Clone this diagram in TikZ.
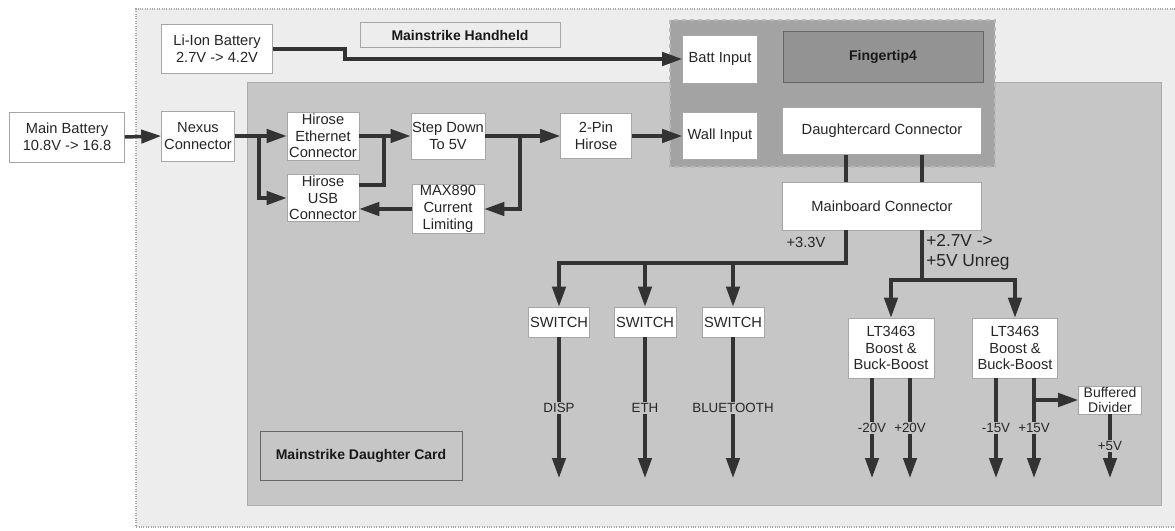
\documentclass[tikz,border=0pt]{standalone}
\usepackage{fontspec}
\setsansfont{Liberation Sans}
\usetikzlibrary{calc,arrows.meta,positioning}
\newcommand{\PxUnit}{0.75pt}
\newcommand{\OutRailY}{478}
\newcommand{\LowBusY}{263}
\newcommand{\HighBusY}{280}
\newcommand{\TapOff}{19}

\begin{document}
\begin{tikzpicture}[x=0.75pt,y=-0.75pt,
  sz/.style 2 args={minimum width=#1*\PxUnit, minimum height=#2*\PxUnit},
  blk/.style={draw=gray!70, fill=white, align=center, inner sep=1pt, text=black!85,
    font=\sffamily\fontsize{11}{12.5}\selectfont},
  tag/.style={draw=black!60, align=center, text=black!90,
    font=\sffamily\bfseries\fontsize{10.5}{12.5}\selectfont},
  bus/.style={line width=2.6pt, draw=black!80},
  feed/.style={bus, -{Triangle[length=15pt,width=10pt]}},
  rail/.style={fill=gray!45, inner sep=1pt, text=black!85,
    font=\sffamily\fontsize{10}{12}\selectfont},
  volt/.style={inner sep=0pt, text=black!85, font=\sffamily\fontsize{11}{13}\selectfont}
]
\useasboundingbox (0,0) rectangle (1175,531);

% ----- Regions -----
\fill[gray!14] (136,9) rectangle (1185,527);
\draw[gray!70, densely dotted, thick] (1185,9) -- (136,9) -- (136,527) -- (1185,527);
\filldraw[fill=gray!45, draw=gray!65] (247,82) rectangle (1161,505);
\filldraw[fill=gray!72, draw=gray!55, dashed, thick] (670,20) rectangle (995,167);

% ----- Handheld side -----
\node[blk, sz={115}{50}] (mainbat) at (67,137) {Main Battery\\10.8V -> 16.8};
\node[blk, sz={111}{49}] (liion) at (217,49) {Li-Ion Battery\\2.7V -> 4.2V};
\node[tag, sz={200}{25}, fill=gray!14, draw=gray!70] (handheld) at (460,35) {Mainstrike Handheld};
\node[blk, sz={73}{50}] (nexus) at (198,136) {Nexus\\Connector};

% ----- Daughter card -----
\node[blk, sz={72}{48}] (heth) at (323,136) {Hirose\\Ethernet\\Connector};
\node[blk, sz={72}{47}] (husb) at (323,198) {Hirose\\USB\\Connector};
\node[blk, sz={72}{46}] (stepdn) at (448,136) {Step Down\\To 5V};
\node[blk, sz={72}{48}] (maxlim) at (448,209) {MAX890\\Current\\Limiting};
\node[blk, sz={71}{45}] (twopin) at (596,136) {2-Pin\\Hirose};
\node[tag, sz={202}{49}, fill=gray!45] (dclabel) at (361,456) {Mainstrike Daughter Card};

% ----- Fingertip4 -----
\node[blk, sz={75}{48}] (battin) at (720,59) {Batt Input};
\node[blk, sz={75}{47}] (wallin) at (720,136) {Wall Input};
\node[tag, sz={200}{51}, fill=gray!85] (ftip) at (883,57) {Fingertip4};
\node[blk, sz={199}{47}] (dcconn) at (882,131) {Daughtercard Connector};
\node[blk, sz={199}{48}] (mbconn) at (882,206) {Mainboard Connector};

% ----- Supplies -----
\node[blk, sz={60}{30}] (swdisp) at (559,322) {SWITCH};
\node[blk, sz={62}{30}] (sweth) at (645,322) {SWITCH};
\node[blk, sz={62}{30}] (swbt) at (733,322) {SWITCH};
\node[blk, sz={86}{60}] (boostA) at (891,348) {LT3463\\Boost \&\\Buck-Boost};
\node[blk, sz={85}{60}] (boostB) at (1015,348) {LT3463\\Boost \&\\Buck-Boost};
\node[blk, sz={63}{28}, inner sep=0.5pt, font=\sffamily\fontsize{10.5}{11.5}\selectfont] (bufdiv) at (1110,400) {Buffered\\Divider};
\node[volt] (v33) at (806,242) {+3.3V};
\node[volt, anchor=west, align=left, font=\sffamily\fontsize{13}{15}\selectfont] (v27) at (926,252) {+2.7V ->\\+5V Unreg};

% ----- Helper points -----
\coordinate (jog) at (345,0);
\coordinate (splitA) at (259,0);
\coordinate (splitB) at (384,0);
\coordinate (splitC) at (520,0);
\coordinate (tapL) at (846,0);
\coordinate (tapR) at (922,0);
\coordinate (busL) at (846,\LowBusY);
\coordinate (busR) at (922,\HighBusY);
\coordinate (outEnd) at (0,\OutRailY);
\coordinate (nA) at ($(boostA.south)+(-\TapOff,0)$);
\coordinate (pA) at ($(boostA.south)+(\TapOff,0)$);
\coordinate (nB) at ($(boostB.south)+(-\TapOff,0)$);
\coordinate (pB) at ($(boostB.south)+(\TapOff,0)$);

% ----- Input path -----
\draw[feed] (mainbat.east) -- (nexus.west);
\draw[feed] (liion.east) -| (battin.west -| jog) -- (battin.west);
\draw[feed] (nexus.east) -- (heth.west);
\draw[feed] (nexus.east -| splitA) |- (husb.west);
\draw[bus] ($(husb.east)+(0,-13)$) -| (heth.east -| splitB);
\draw[feed] (heth.east) -- (stepdn.west);
\draw[feed] (stepdn.east) -- (twopin.west);
\draw[feed] (stepdn.east -| splitC) |- (maxlim.east);
\draw[feed] (maxlim.west) -- (maxlim.west -| husb.east);
\draw[feed] (twopin.east) -- (wallin.west);

% ----- Connector stack -----
\draw[bus] (dcconn.south -| tapL) -- (mbconn.north -| tapL);
\draw[bus] (dcconn.south -| tapR) -- (mbconn.north -| tapR);

% ----- +3.3V rail -----
\draw[feed] (mbconn.south -| tapL) -- (busL) -| (swdisp.north);
\draw[feed] (busL -| sweth.north) -- (sweth.north);
\draw[feed] (busL -| swbt.north) -- (swbt.north);
\draw[feed] (swdisp.south) -- (swdisp.south |- outEnd) node[rail, pos=.5] {DISP};
\draw[feed] (sweth.south) -- (sweth.south |- outEnd) node[rail, pos=.5] {ETH};
\draw[feed] (swbt.south) -- (swbt.south |- outEnd) node[rail, pos=.5] {BLUETOOTH};

% ----- Unregulated rail -----
\draw[bus] (mbconn.south -| tapR) -- (busR);
\draw[feed] (busR) -| (boostA.north);
\draw[feed] (busR) -| (boostB.north);
\draw[feed] (nA) -- (nA |- outEnd) node[rail, pos=.5] {-20V};
\draw[feed] (pA) -- (pA |- outEnd) node[rail, pos=.5] {+20V};
\draw[feed] (nB) -- (nB |- outEnd) node[rail, pos=.5] {-15V};
\draw[feed] (pB) -- (pB |- outEnd) node[rail, pos=.5] {+15V};
\draw[feed] (bufdiv.west -| pB) -- (bufdiv.west);
\draw[feed] (bufdiv.south) -- (bufdiv.south |- outEnd) node[rail, pos=.5] {+5V};

\end{tikzpicture}
\end{document}
